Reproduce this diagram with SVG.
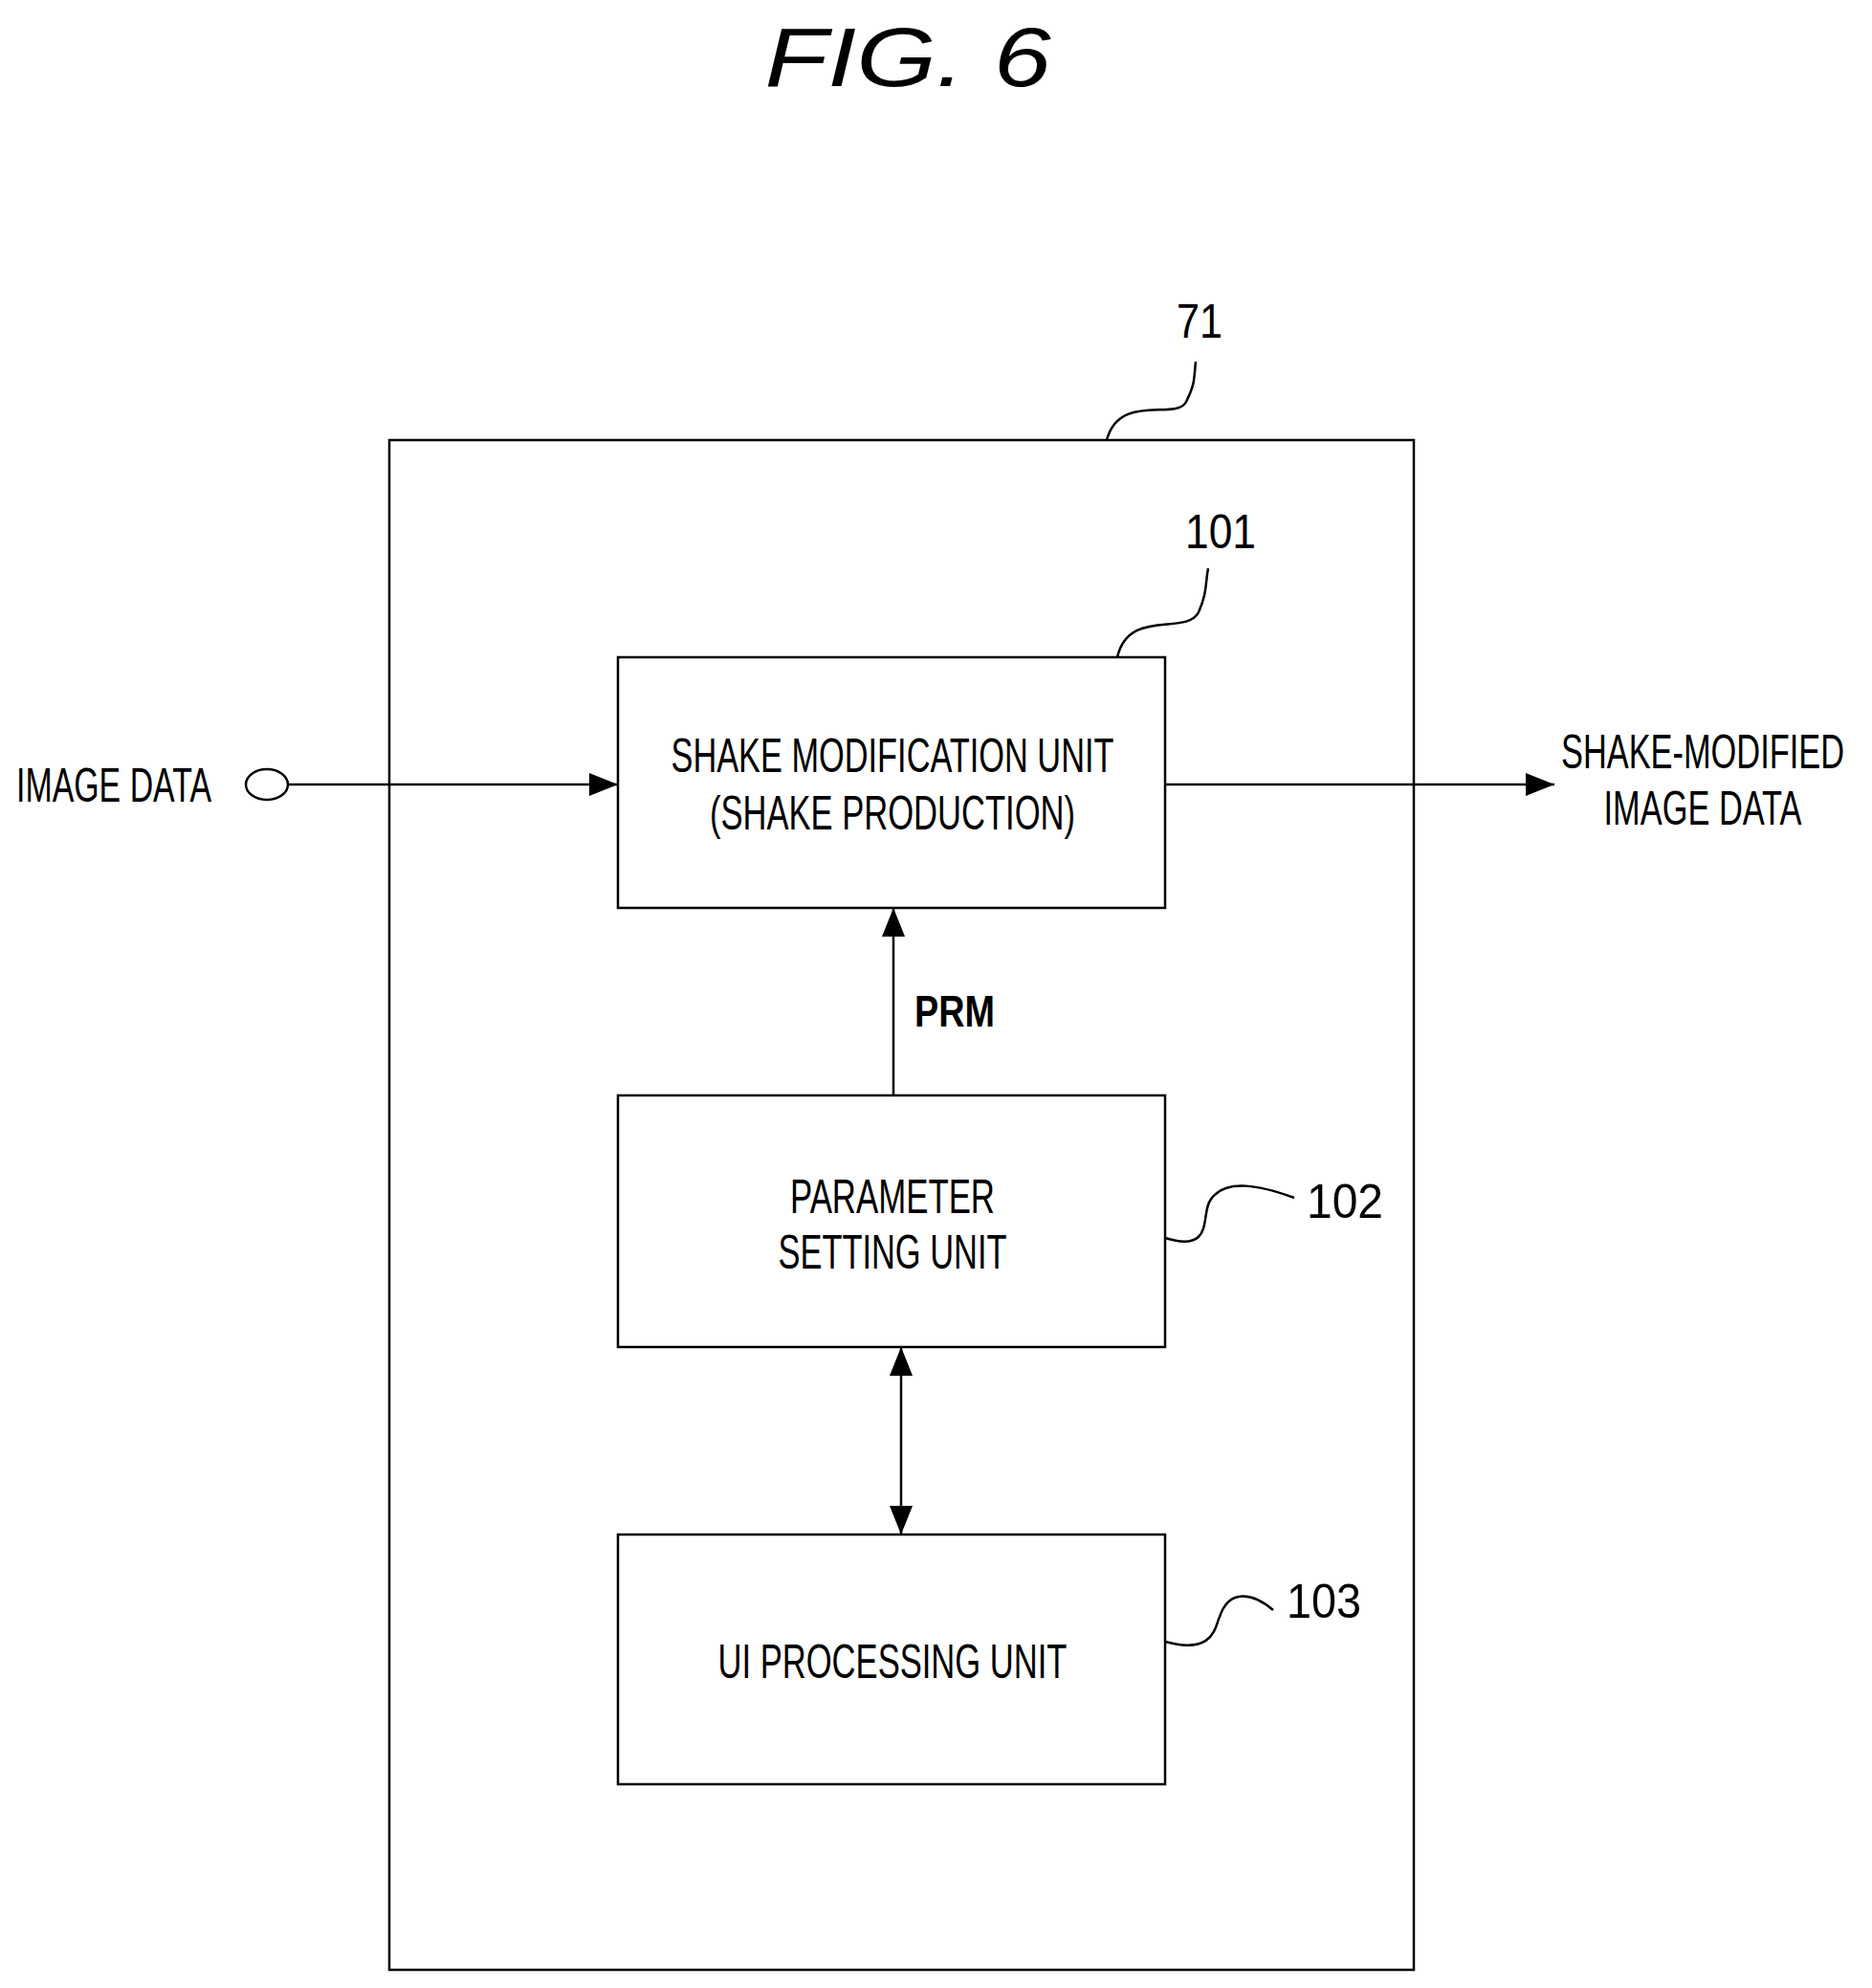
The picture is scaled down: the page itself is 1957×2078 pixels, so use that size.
<svg xmlns="http://www.w3.org/2000/svg" width="1957" height="2078" viewBox="0 0 1957 2078">
<style>
.box{fill:#fff;stroke:#000;stroke-width:2.5}
.ln{fill:none;stroke:#000;stroke-width:2.5}
.t{font-family:"Liberation Sans",Arial,sans-serif;font-size:50px;text-anchor:middle;fill:#000}
.num{font-size:50px}
</style>
<defs>
<marker id="a" viewBox="0 0 30 24" refX="30" refY="12" markerWidth="30" markerHeight="24" orient="auto-start-reverse" markerUnits="userSpaceOnUse"><path d="M0,0 L30,12 L0,24 z" fill="#000"/></marker>
</defs>
<rect width="1957" height="2078" fill="#fff"/>
<text x="949" y="90" class="t" style="font-size:88px;font-style:italic" textLength="299" lengthAdjust="spacingAndGlyphs">FIG. 6</text>
<g id="n71">
<rect class="box" x="407" y="460" width="1071" height="1599"/>
<path class="ln" d="M1157,460 C1170,410 1230,440 1240,420 C1250,400 1248,395 1250,378"/>
<text x="1254" y="353" class="t num" textLength="48" lengthAdjust="spacingAndGlyphs">71</text>
</g>
<g id="n101">
<rect class="box" x="646" y="687" width="572" height="262"/>
<text x="933" y="807" class="t" textLength="463" lengthAdjust="spacingAndGlyphs">SHAKE MODIFICATION UNIT</text>
<text x="933" y="867" class="t" textLength="382" lengthAdjust="spacingAndGlyphs">(SHAKE PRODUCTION)</text>
<path class="ln" d="M1168,687 C1180,635 1240,665 1253,640 C1262,620 1260,610 1263,594"/>
<text x="1276" y="573" class="t num" textLength="74" lengthAdjust="spacingAndGlyphs">101</text>
</g>
<g id="n102">
<rect class="box" x="646" y="1145" width="572" height="263"/>
<text x="933" y="1268" class="t" textLength="214" lengthAdjust="spacingAndGlyphs">PARAMETER</text>
<text x="933" y="1326" class="t" textLength="239" lengthAdjust="spacingAndGlyphs">SETTING UNIT</text>
<path class="ln" d="M1218,1294 C1270,1310 1255,1270 1265,1255 C1280,1230 1320,1240 1353,1252"/>
<text x="1406" y="1273" class="t num" textLength="80" lengthAdjust="spacingAndGlyphs">102</text>
</g>
<g id="n103">
<rect class="box" x="646" y="1604" width="572" height="261"/>
<text x="933" y="1754" class="t" textLength="365" lengthAdjust="spacingAndGlyphs">UI PROCESSING UNIT</text>
<path class="ln" d="M1218,1716 C1270,1730 1270,1700 1275,1690 C1285,1660 1310,1665 1331,1683"/>
<text x="1384" y="1691" class="t num" textLength="78" lengthAdjust="spacingAndGlyphs">103</text>
</g>
<g id="in">
<text x="119" y="838" class="t" textLength="204" lengthAdjust="spacingAndGlyphs">IMAGE DATA</text>
<ellipse class="ln" cx="279" cy="820" rx="22" ry="16"/>
</g>
<g id="out">
<text x="1780" y="803" class="t" textLength="296" lengthAdjust="spacingAndGlyphs">SHAKE-MODIFIED</text>
<text x="1780" y="862" class="t" textLength="207" lengthAdjust="spacingAndGlyphs">IMAGE DATA</text>
</g>
<g id="connectors">
<line class="ln" x1="301" y1="820" x2="646" y2="820" marker-end="url(#a)"/>
<line class="ln" x1="1218" y1="820" x2="1625" y2="820" marker-end="url(#a)"/>
<line class="ln" x1="934" y1="1145" x2="934" y2="949" marker-end="url(#a)"/>
<text x="998" y="1073" class="t" style="font-size:46px;font-weight:bold" textLength="84" lengthAdjust="spacingAndGlyphs">PRM</text>
<line class="ln" x1="942" y1="1408" x2="942" y2="1604" marker-start="url(#a)" marker-end="url(#a)"/>
</g>
</svg>
